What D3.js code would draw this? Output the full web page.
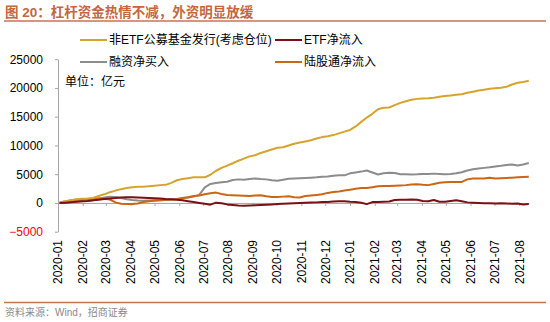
<!DOCTYPE html>
<html>
<head>
<meta charset="utf-8">
<script src="https://cdn.jsdelivr.net/npm/d3@7"></script>
<style>
  html, body { margin: 0; padding: 0; background: #fff; }
  svg { display: block; }
  text { font-family: "Liberation Sans", Arial, "Noto Sans CJK SC", sans-serif; }
  .cjk { font-family: "Liberation Sans", "Noto Sans CJK SC", sans-serif; }
</style>
</head>
<body>
<svg id="chart" width="550" height="322"></svg>
<script>
// Weekly observation dates (Fridays), Jan 2020 – mid Aug 2021
const weeks = d3.timeFriday.range(new Date(2020, 0, 3), new Date(2021, 7, 14));

// Cumulative flows, 亿元
const fundIssue = [
  100, 300, 480, 650, 720, 760, 850, 1200, 1500, 1850,
  2150, 2400, 2600, 2750, 2800, 2820, 2900, 3000, 3100, 3150,
  3500, 3950, 4150, 4300, 4450, 4450, 4450, 4900, 5600, 6100,
  6500, 6900, 7350, 7700, 8100, 8300, 8700, 9000, 9300, 9600,
  9700, 10000, 10300, 10500, 10700, 10900, 11200, 11450, 11600, 11800,
  12100, 12400, 12700, 13300, 14100, 14850, 15500, 16300, 16550, 16600,
  17000, 17400, 17700, 17950, 18100, 18150, 18200, 18300, 18450, 18600,
  18700, 18800, 18900, 19150, 19350, 19550, 19700, 19850, 19950, 20050,
  20200, 20600, 20900, 21050, 21250
];
const etfFlow = [
  0, 50, 120, 200, 280, 350, 450, 550, 700, 780,
  850, 950, 1000, 980, 950, 900, 850, 820, 780, 700,
  650, 550, 450, 300, 150, 0, -150, -300, 50, -50,
  -250, -350, -450, -500, -450, -400, -350, -300, -250, -200,
  -150, -100, -50, 0, 50, 80, 100, 150, 180, 250,
  280, 300, 200, 150, 50, -200, 150, 150, 200, 250,
  500, 550, 550, 600, 550, 350, 300, 500, 200, 200,
  350, 450, 300, 100, 50, 0, -50, -50, -100, -50,
  -100, -150, -100, -250, -200
];
const marginBuy = [
  0, 50, 150, 250, 300, 350, 450, 700, 950, 1100,
  1050, 850, 650, 500, 420, 400, 420, 450, 480, 520,
  600, 700, 800, 950, 1100, 1400, 2700, 3300, 3450, 3600,
  3700, 4000, 4100, 4050, 4150, 4250, 4150, 4100, 3950, 3850,
  4050, 4200, 4250, 4300, 4350, 4400, 4450, 4550, 4600, 4750,
  4800, 4800, 5150, 5300, 5450, 5650, 5300, 4950, 5150, 5250,
  5200, 5000, 4980, 4950, 4980, 5050, 5050, 5100, 5050, 4980,
  5050, 5150, 5350, 5650, 5850, 6000, 6100, 6200, 6350, 6450,
  6600, 6700, 6500, 6700, 6950
];
const northbound = [
  100, 250, 450, 550, 600, 650, 750, 800, 750, 600,
  100, -150, -200, -200, -100, 150, 300, 400, 450, 550,
  600, 650, 850, 1000, 1200, 1300, 1500, 1700, 1800, 1550,
  1400, 1350, 1300, 1250, 1200, 1300, 1350, 1150, 1050, 1050,
  1100, 1150, 1000, 950, 1200, 1300, 1400, 1500, 1750, 1900,
  2000, 2150, 2300, 2450, 2600, 2600, 2750, 2900, 2950, 2950,
  3000, 3050, 3100, 3200, 3250, 3150, 3100, 3300, 3500, 3600,
  3650, 3650, 3650, 4100, 4250, 4250, 4250, 4400, 4250, 4300,
  4350, 4400, 4450, 4500, 4550
];

const seriesNames = ["非ETF公募基金发行(考虑仓位)", "ETF净流入", "融资净买入", "陆股通净流入"];
const seriesColors = ["#D6A32E", "#7A1014", "#8C8C8C", "#CC6612"];
const seriesValues = [fundIssue, etfFlow, marginBuy, northbound];

const yTicks = [-5000, 0, 5000, 10000, 15000, 20000, 25000];
const monthLabels = ["2020-01", "2020-02", "2020-03", "2020-04", "2020-05", "2020-06",
  "2020-07", "2020-08", "2020-09", "2020-10", "2020-11", "2020-12",
  "2021-01", "2021-02", "2021-03", "2021-04", "2021-05", "2021-06",
  "2021-07", "2021-08"];

const titleText = "图 20：杠杆资金热情不减，外资明显放缓";
const unitText = "单位：亿元";
const sourceText = "资料来源：Wind，招商证券";

const svg = d3.select("#chart");
const accent = "#C4663F";

// Title and rules
svg.append("text").attr("class", "cjk")
  .attr("x", 5).attr("y", 17)
  .attr("font-size", 13.5).attr("font-weight", "bold")
  .attr("fill", accent).text(titleText);
svg.append("line").attr("x1", 4).attr("x2", 546).attr("y1", 21).attr("y2", 21)
  .attr("stroke", "#C8734F").attr("stroke-width", 1.5);
svg.append("line").attr("x1", 4).attr("x2", 546).attr("y1", 302.5).attr("y2", 302.5)
  .attr("stroke", "#C8734F").attr("stroke-width", 1.5);
svg.append("text").attr("class", "cjk")
  .attr("x", 5).attr("y", 316)
  .attr("font-size", 10).attr("fill", "#8a8a8a").text(sourceText);

// Scales
const parseMonth = d3.timeParse("%Y-%m");
const x = d3.scaleTime()
  .domain([new Date(2020, 0, 1), new Date(2021, 7, 13)])
  .range([58, 528.8]);
const y = d3.scaleLinear().domain([-5000, 25000]).range([231.7, 59.2]);

// Y axis
const yAxis = d3.axisLeft(y).tickValues(yTicks).tickSize(3).tickSizeOuter(0)
  .tickPadding(12).tickFormat(d3.format("d"));
const gy = svg.append("g").attr("transform", "translate(58,0)").call(yAxis);
gy.select(".domain").attr("stroke", "#a6a6a6");
gy.selectAll(".tick line").attr("stroke", "#a6a6a6");
gy.selectAll(".tick text")
  .attr("font-size", 12)
  .attr("font-family", "Liberation Sans, Arial, sans-serif")
  .attr("fill", d => d < 0 ? "#ff0000" : "#000");

// Zero line with month ticks
const monthDates = monthLabels.map(parseMonth);
const xAxis = d3.axisBottom(x).tickValues(monthDates).tickSize(3).tickSizeOuter(0).tickFormat("");
const gx = svg.append("g").attr("transform", `translate(0,${y(0)})`).call(xAxis);
gx.select(".domain").attr("stroke", "#a6a6a6");
gx.selectAll(".tick line").attr("stroke", "#a6a6a6");

// Month labels, rotated, below the plot
svg.append("g").selectAll("text")
  .data(monthDates)
  .join("text")
  .attr("transform", d => `translate(${x(d)},240) rotate(-90)`)
  .attr("text-anchor", "end")
  .attr("dy", "0.36em")
  .attr("font-size", 12)
  .attr("fill", "#000")
  .text((d, i) => monthLabels[i]);

// Series lines
const line = d3.line()
  .x((d, i) => x(weeks[i]))
  .y(d => y(d));
const drawOrder = [2, 3, 0, 1];
drawOrder.forEach(k => {
  svg.append("path")
    .datum(seriesValues[k])
    .attr("fill", "none")
    .attr("stroke", seriesColors[k])
    .attr("stroke-width", 2)
    .attr("stroke-linejoin", "round")
    .attr("d", line);
});

// Legend
const legendPos = [[80, 40], [275, 40], [80, 62], [275, 62]];
seriesNames.forEach((name, k) => {
  const [lx, ly] = legendPos[k];
  svg.append("line")
    .attr("x1", lx).attr("x2", lx + 27).attr("y1", ly).attr("y2", ly)
    .attr("stroke", seriesColors[k]).attr("stroke-width", 2);
  svg.append("text").attr("class", "cjk")
    .attr("x", lx + 29).attr("y", ly).attr("dy", "0.36em")
    .attr("font-size", 12).attr("fill", "#000").text(name);
});

svg.append("text").attr("class", "cjk")
  .attr("x", 65).attr("y", 82).attr("dy", "0.36em")
  .attr("font-size", 12).attr("fill", "#000").text(unitText);
</script>
</body>
</html>
